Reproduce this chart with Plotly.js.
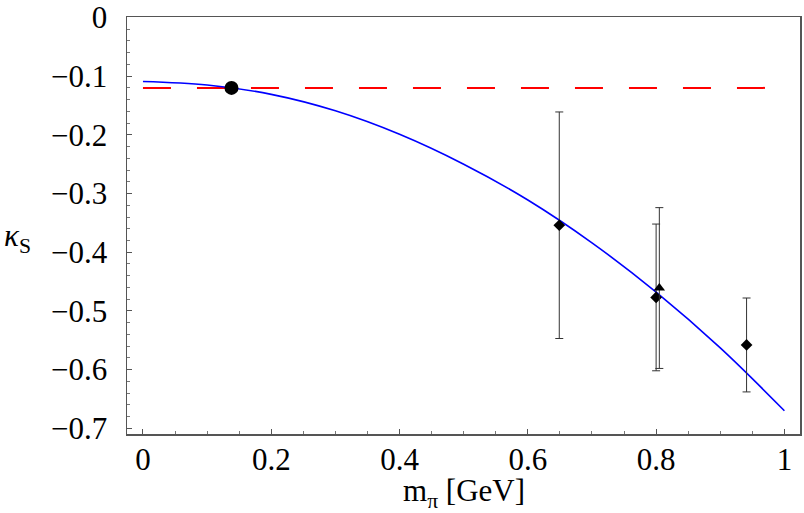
<!DOCTYPE html>
<html>
<head>
<meta charset="utf-8">
<script src="https://cdn.plot.ly/plotly-3.0.1.min.js"></script>
<style>html,body{margin:0;padding:0;background:#fff;}#chart{width:804px;height:513px;}</style>
</head>
<body>
<div id="chart"></div>
<script>
// Fit curve
const curveX = [0, 0.1, 0.2, 0.3, 0.4, 0.5, 0.6, 0.7, 0.8, 0.9, 1.0];
const curveY = [-0.109, -0.115, -0.131, -0.159, -0.199, -0.250, -0.311, -0.384, -0.468, -0.563, -0.670];

// Reference value (dashed line) and physical point
const refX = [0, 1];
const refY = [-0.12, -0.12];
const physX = [0.138];
const physY = [-0.12];

// Lattice points (diamonds)
const diaX = [0.649, 0.800, 0.941];
const diaY = [-0.354, -0.477, -0.558];
const diaErr = [0.193, 0.125, 0.080];

// Lattice point (triangle)
const triX = [0.805];
const triY = [-0.461];
const triErr = [0.137];

const xTickVals = [0, 0.2, 0.4, 0.6, 0.8, 1];
const xTickText = ['0', '0.2', '0.4', '0.6', '0.8', '1'];
const yTickVals = [0, -0.1, -0.2, -0.3, -0.4, -0.5, -0.6, -0.7];
const yTickText = ['0', '\u22120.1', '\u22120.2', '\u22120.3', '\u22120.4', '\u22120.5', '\u22120.6', '\u22120.7'];

const font = "'Liberation Serif', 'DejaVu Serif', serif";

const traces = [
  {x: refX, y: refY, mode: 'lines', line: {color: '#ff0000', width: 2, dash: '28px,26px'}, hoverinfo: 'skip'},
  {x: curveX, y: curveY, mode: 'lines', line: {color: '#0000ff', width: 1.6, shape: 'spline'}, hoverinfo: 'skip'},
  {x: diaX, y: diaY, mode: 'markers', marker: {symbol: 'diamond', size: 9, color: '#000'},
   error_y: {type: 'data', array: diaErr, visible: true, color: '#333', thickness: 1, width: 4}},
  {x: triX, y: triY, mode: 'markers', marker: {symbol: 'triangle-up', size: 10, color: '#000'},
   error_y: {type: 'data', array: triErr, visible: true, color: '#333', thickness: 1, width: 4}},
  {x: physX, y: physY, mode: 'markers', marker: {symbol: 'circle', size: 14, color: '#000'}}
];

const layout = {
  width: 804, height: 513,
  margin: {l: 127, r: 4, t: 17, b: 79},
  paper_bgcolor: '#fff', plot_bgcolor: '#fff',
  showlegend: false,
  font: {family: font, size: 31, color: '#000'},
  xaxis: {
    range: [-0.0249, 1.0243],
    tickvals: xTickVals, ticktext: xTickText,
    ticks: 'inside', ticklen: 5, tickwidth: 1, tickcolor: '#555',
    minor: {dtick: 0.05, tick0: 0, ticks: 'inside', ticklen: 3, tickcolor: '#777', showgrid: false},
    showline: true, linecolor: '#555', linewidth: 1.5, mirror: true,
    showgrid: false, zeroline: false,
    tickfont: {family: font, size: 31, color: '#000'},
    ticklabelstandoff: -3
  },
  yaxis: {
    range: [-0.7097, 0.0008],
    tickvals: yTickVals, ticktext: yTickText,
    ticks: 'inside', ticklen: 5, tickwidth: 1, tickcolor: '#555',
    minor: {dtick: 0.02, tick0: 0, ticks: 'inside', ticklen: 3, tickcolor: '#777', showgrid: false},
    showline: true, linecolor: '#555', linewidth: 1.5, mirror: true,
    showgrid: false, zeroline: false,
    tickfont: {family: font, size: 31, color: '#000'},
    ticklabelstandoff: 12
  },
  annotations: [{
    xref: 'paper', yref: 'paper', x: -0.185, y: 0.47, xanchor: 'left', yanchor: 'middle',
    showarrow: false, text: '<i>\u03ba</i><sub>S</sub>',
    font: {family: font, size: 31, color: '#000'}
  }, {
    xref: 'paper', yref: 'paper', x: 0.5, y: -0.141, xanchor: 'center', yanchor: 'middle',
    showarrow: false, text: 'm<sub>\u03c0</sub> [GeV]',
    font: {family: font, size: 31, color: '#000'}
  }]
};

Plotly.newPlot('chart', traces, layout, {displayModeBar: false, staticPlot: true});
</script>
</body>
</html>
